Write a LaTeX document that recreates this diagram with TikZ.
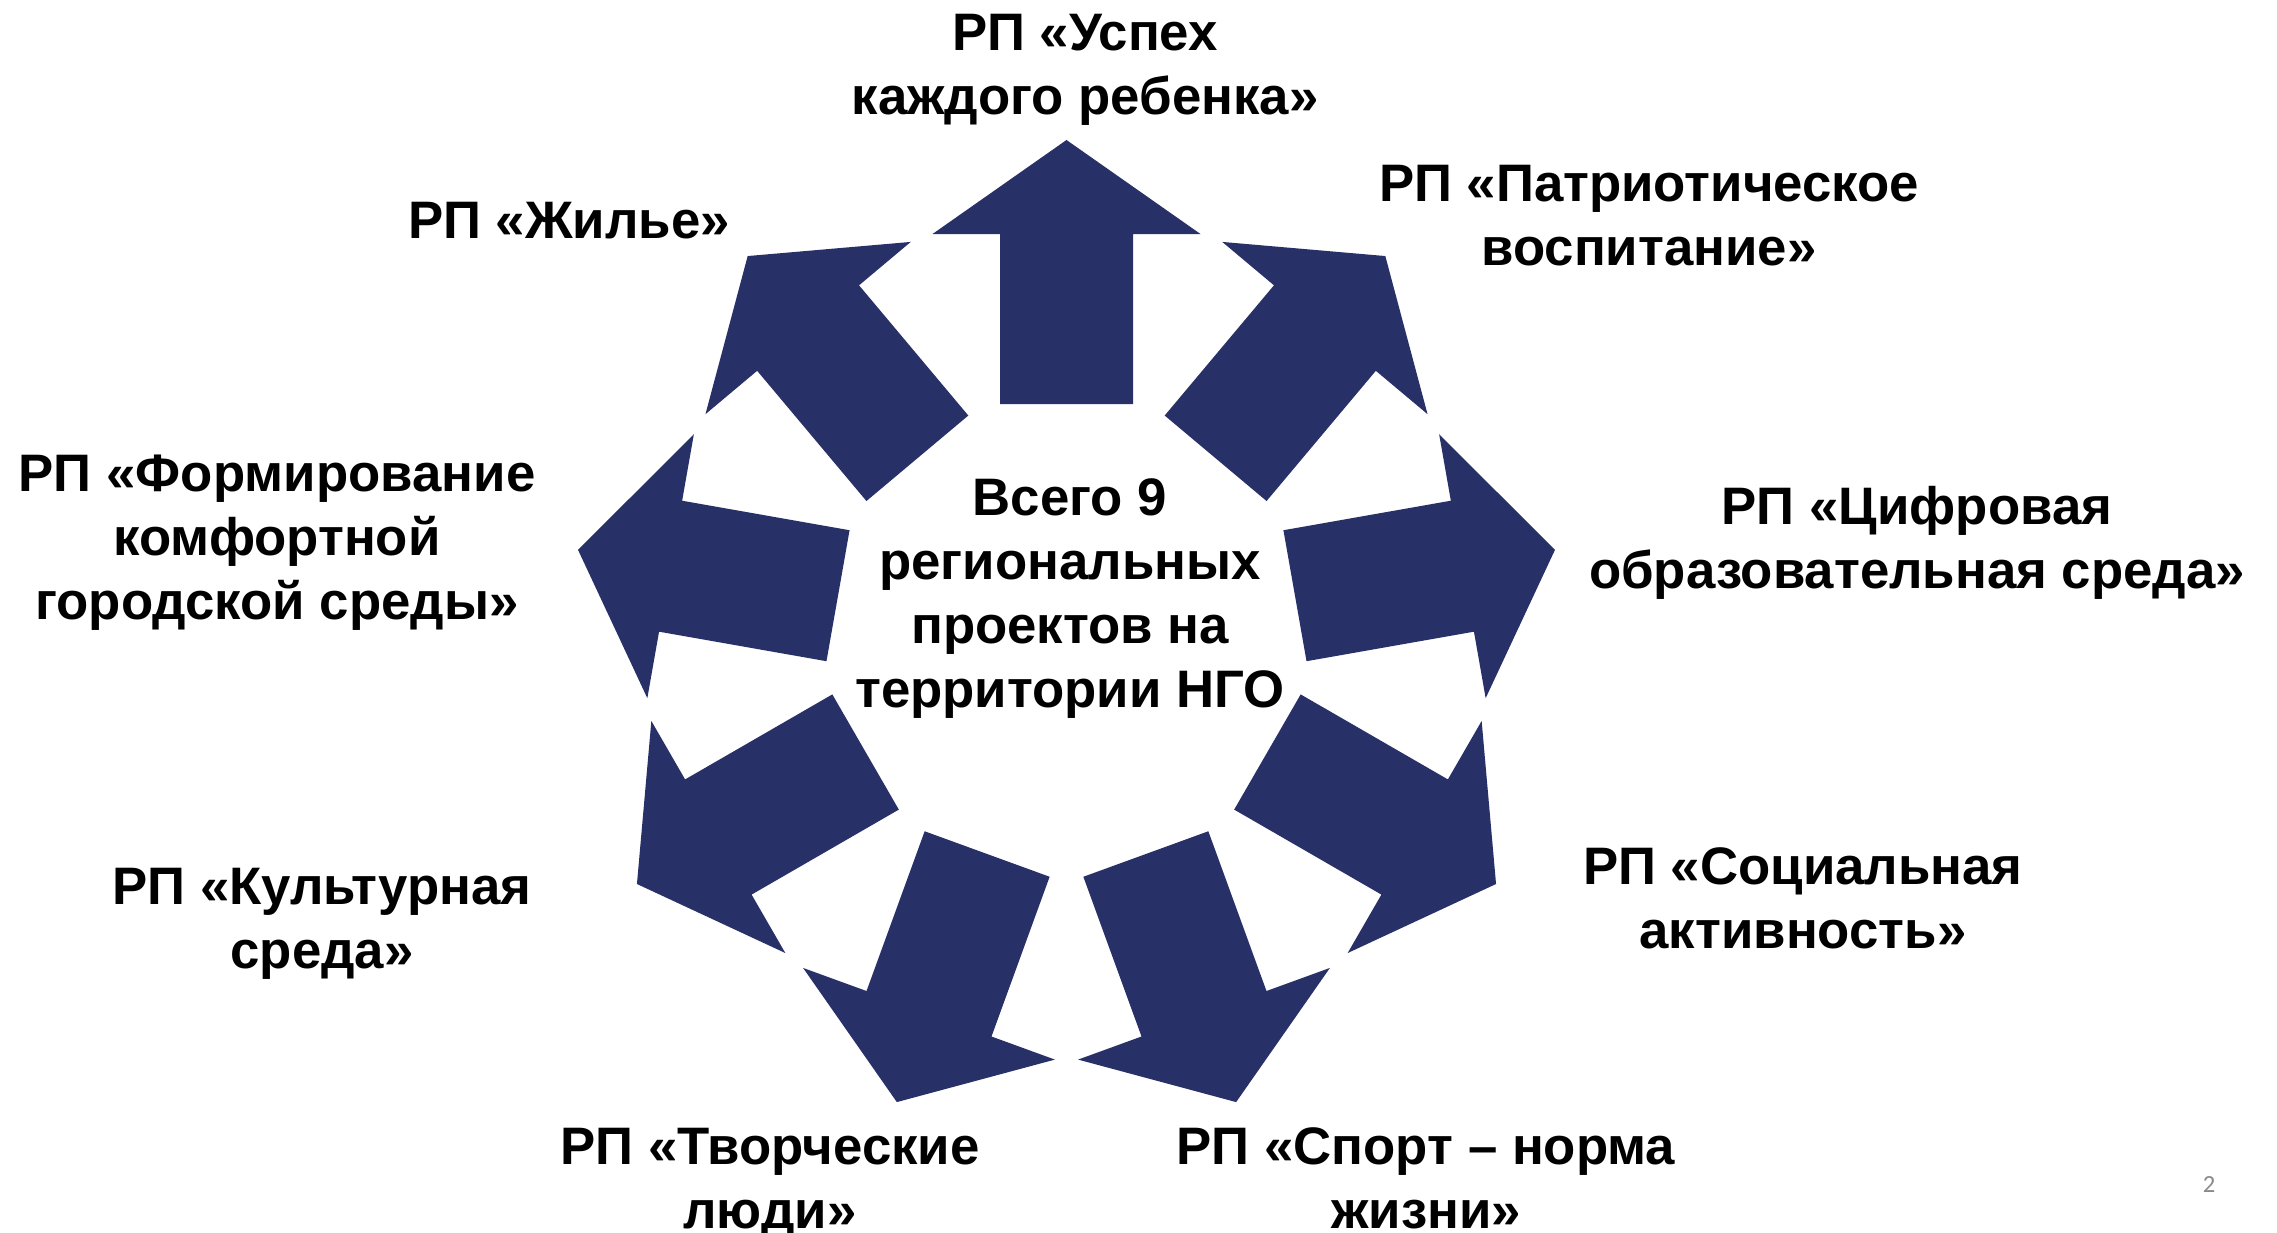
\documentclass[tikz,border=0pt]{standalone}
\usepackage{fontspec}
\setmainfont{Liberation Sans}
\newfontfamily\pagefont{Carlito}
\definecolor{arrowblue}{RGB}{40,48,104}
\definecolor{pagegray}{RGB}{137,137,137}
\begin{document}
\begin{tikzpicture}[x=0.01cm,y=-0.01cm,
  lbl/.style={align=center,font=\fontsize{15}{18.2}\selectfont\bfseries,text=black,inner sep=0pt},
  arrowshape/.style={fill=arrowblue,draw=none}]
\useasboundingbox (0,0) rectangle (2277,1233);
\fill[white] (0,0) rectangle (2277,1233);
\begin{scope}[shift={(1066.5,636)}]
  \foreach \a in {90,50,10,-30,-70,-110,-150,170,130} {
    \begin{scope}[rotate=\a]
      \fill[arrowshape] (232,-66.5) -- (402,-66.5) -- (402,-134) -- (496,0) -- (402,134) -- (402,66.5) -- (232,66.5) -- cycle;
    \end{scope}
  }
\end{scope}
\node[lbl] (center) at (1070,599) {Всего 9\\региональных\\проектов на\\территории НГО};
\node[lbl] (uspeh) at (1085,70) {РП «Успех\\каждого ребенка»};
\node[lbl] (patr) at (1649,216) {РП «Патриотическое\\воспитание»};
\node[lbl] (cifr) at (1917,543) {РП «Цифровая\\образовательная среда»};
\node[lbl] (soc) at (1803,898) {РП «Социальная\\активность»};
\node[lbl] (sport) at (1426,1178) {РП «Спорт – норма\\жизни»};
\node[lbl] (tvor) at (770,1184) {РП «Творческие\\люди»};
\node[lbl] (kult) at (322,924) {РП «Культурная\\среда»};
\node[lbl] (form) at (277,543) {РП «Формирование\\комфортной\\городской среды»};
\node[lbl] (zhil) at (569,221) {РП «Жилье»};
\node[font=\pagefont\fontsize{7}{8}\selectfont,text=pagegray,inner sep=0pt] (page) at (2209,1185) {2};
\end{tikzpicture}
\end{document}
